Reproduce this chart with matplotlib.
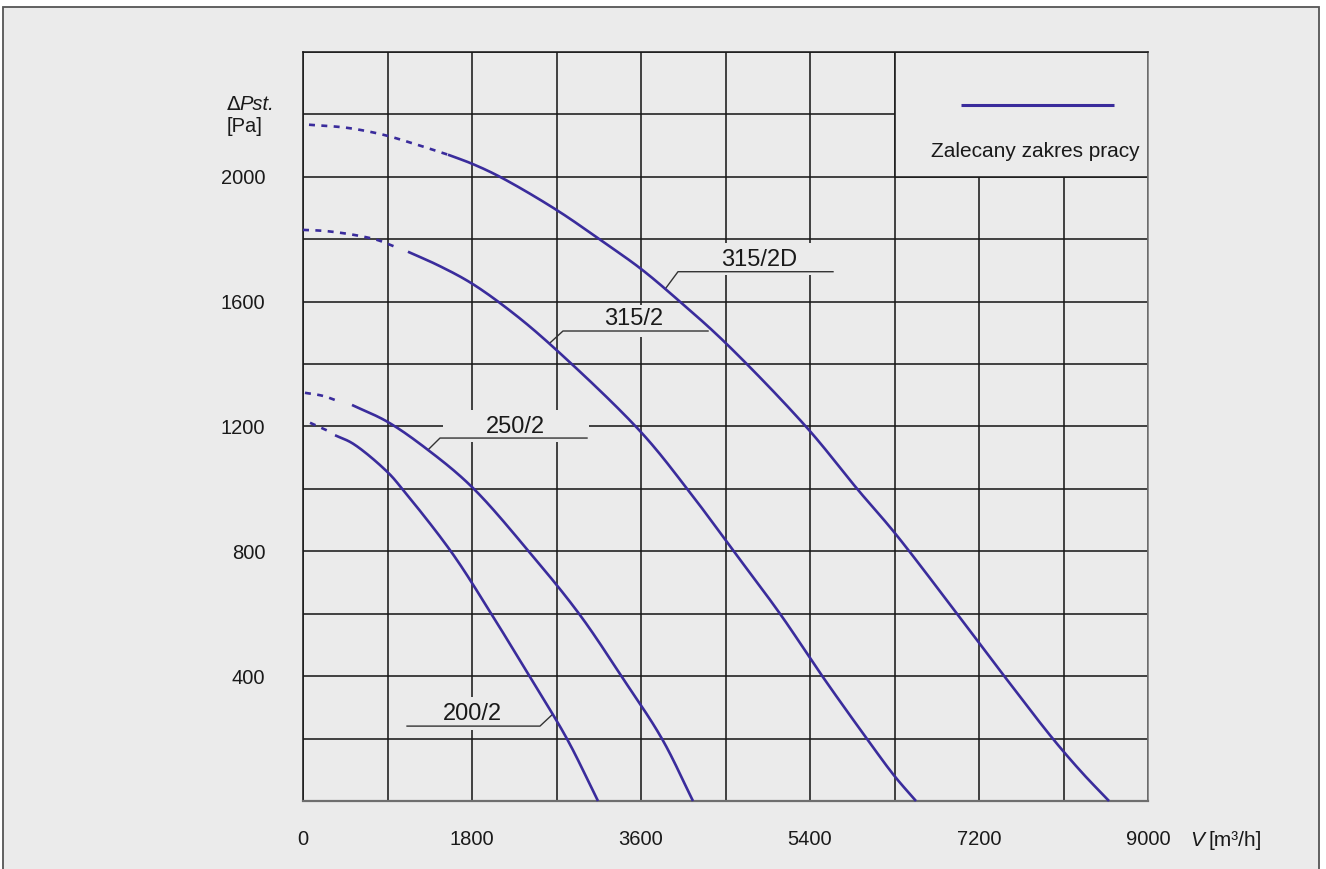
import matplotlib
matplotlib.use('Agg')
import matplotlib.pyplot as plt
from matplotlib.patches import Rectangle
import numpy as np

plt.rcParams['font.family'] = ['Liberation Sans', 'DejaVu Sans']
plt.rcParams['lines.scale_dashes'] = False

# ---------------- data ----------------
x_ticks = [0, 1800, 3600, 5400, 7200, 9000]
x_tick_labels = ['0', '1800', '3600', '5400', '7200', '9000']
y_ticks = [400, 800, 1200, 1600, 2000]
y_tick_labels = ['400', '800', '1200', '1600', '2000']

# 315/2D
v_315_2D_dash = [64, 469, 852, 1214, 1544]
p_315_2D_dash = [2167, 2157, 2135, 2103, 2071]
v_315_2D = [1544, 1800, 2098, 2700, 3195, 3600, 4015, 4500, 5368, 5911, 6300, 6976, 7477, 7988, 8300, 8585]
p_315_2D = [2071, 2042, 2000, 1894, 1792, 1705, 1600, 1468, 1196, 997, 860, 596, 397, 199, 90, 0]

# 315/2
v_315_2_dash = [0, 213, 415, 596, 788, 980]
p_315_2_dash = [1830, 1827, 1820, 1811, 1798, 1776]
v_315_2 = [1118, 1450, 1800, 2240, 2700, 3600, 4100, 4601, 5090, 5538, 6007, 6300, 6529]
p_315_2 = [1760, 1715, 1658, 1563, 1445, 1182, 997, 795, 596, 397, 199, 80, 0]

# 250/2
v_250_2_dash = [21, 213, 394]
p_250_2_dash = [1308, 1298, 1279]
v_250_2 = [522, 900, 1331, 1800, 2418, 2950, 3398, 3824, 4154]
p_250_2 = [1269, 1215, 1125, 1006, 795, 596, 397, 199, 0]

# 200/2
v_200_2_dash = [75, 266]
p_200_2_dash = [1212, 1186]
v_200_2 = [341, 533, 900, 1065, 1587, 2013, 2418, 2812, 3142]
p_200_2 = [1172, 1145, 1054, 997, 795, 596, 397, 199, 0]

curve_names = ['315/2D', '315/2', '250/2', '200/2']
legend_text = 'Zalecany zakres pracy'

# ---------------- figure ----------------
W, H = 1326, 869
fig = plt.figure(figsize=(W / 100, H / 100), dpi=100, facecolor='white')
bg = '#ebebeb'
frame = Rectangle((3 / W, -0.02), (1319 - 3) / W, (H - 7) / H + 0.02,
                  transform=fig.transFigure, facecolor=bg,
                  edgecolor='#555555', lw=1.3, zorder=-10)
fig.patches.append(frame)

ax = fig.add_axes([303 / W, (H - 801) / H, 845 / W, 749 / H])
ax.set_zorder(5)
ax.set_facecolor(bg)
ax.set_xlim(0, 9000)
ax.set_ylim(0, 2400)

ax.set_xticks(x_ticks)
ax.set_xticklabels(x_tick_labels)
ax.set_xticks(list(range(0, 9001, 900)), minor=True)
ax.set_yticks(y_ticks)
ax.set_yticklabels(y_tick_labels)
ax.set_yticks(list(range(0, 2401, 200)), minor=True)
ax.tick_params(which='both', length=0)
ax.tick_params(axis='x', labelsize=14.5, pad=21, colors='#1a1a1a')
ax.tick_params(axis='y', labelsize=14.5, pad=27, colors='#1a1a1a')
ax.set_axisbelow(True)
ax.grid(which='both', color='#1a1a1a', lw=1.15)
for s in ['left', 'top', 'right']:
    ax.spines[s].set_color('#1a1a1a')
    ax.spines[s].set_linewidth(1.15)
ax.spines['right'].set_color('#777777')
ax.spines['bottom'].set_color('#6e6e6e')
ax.spines['bottom'].set_linewidth(1.6)


def smooth(xs, ys, n=24):
    """Centripetal Catmull-Rom rendering through the read points (display scale)."""
    sx, sy = 9000 / 845.0, 2400 / 749.0
    P = np.column_stack([np.asarray(xs, float) / sx, np.asarray(ys, float) / sy])
    if len(P) < 3:
        return xs, ys
    P = np.vstack([2 * P[0] - P[1], P, 2 * P[-1] - P[-2]])
    out = []
    for i in range(1, len(P) - 2):
        p0, p1, p2, p3 = P[i - 1], P[i], P[i + 1], P[i + 2]
        t0 = 0.0
        t1 = t0 + np.linalg.norm(p1 - p0) ** 0.5
        t2 = t1 + np.linalg.norm(p2 - p1) ** 0.5
        t3 = t2 + np.linalg.norm(p3 - p2) ** 0.5
        t = np.linspace(t1, t2, n, endpoint=(i == len(P) - 3))[:, None]
        a1 = (t1 - t) / (t1 - t0) * p0 + (t - t0) / (t1 - t0) * p1
        a2 = (t2 - t) / (t2 - t1) * p1 + (t - t1) / (t2 - t1) * p2
        a3 = (t3 - t) / (t3 - t2) * p2 + (t - t2) / (t3 - t2) * p3
        b1 = (t2 - t) / (t2 - t0) * a1 + (t - t0) / (t2 - t0) * a2
        b2 = (t3 - t) / (t3 - t1) * a2 + (t - t1) / (t3 - t1) * a3
        c = (t2 - t) / (t2 - t1) * b1 + (t - t1) / (t2 - t1) * b2
        out.append(c)
    C = np.vstack(out)
    return C[:, 0] * sx, C[:, 1] * sy


col = '#3a2c9c'
lw = 1.9
dash = (0, (4.3, 4.6))
for vd, pd_, vs, ps in [(v_315_2D_dash, p_315_2D_dash, v_315_2D, p_315_2D),
                        (v_315_2_dash, p_315_2_dash, v_315_2, p_315_2),
                        (v_250_2_dash, p_250_2_dash, v_250_2, p_250_2),
                        (v_200_2_dash, p_200_2_dash, v_200_2, p_200_2)]:
    xd, yd = smooth(vd, pd_)
    ax.plot(xd, yd, color=col, lw=lw, ls=dash, zorder=3, clip_on=False)
    xs_, ys_ = smooth(vs, ps)
    ax.plot(xs_, ys_, color=col, lw=lw, zorder=3, solid_capstyle='butt', clip_on=False)

# legend box (covers grid)
ax.add_patch(Rectangle((6300, 2000), 2700, 400, facecolor=bg, edgecolor='#1a1a1a',
                       lw=1.15, zorder=1.5))
ax.plot([7008, 8638], [2231, 2231], color=col, lw=2.2, zorder=3, solid_capstyle='butt')
ax.text(8915, 2080, legend_text, ha='right', va='center', fontsize=15, color='#1a1a1a', zorder=3)

# curve labels with masks and leader lines
labels = [
    ('315/2D', (4857, 1734), (3994, 5666, 1686, 1788), ([5645, 3994, 3866], [1696, 1696, 1644])),
    ('315/2', (3525, 1545), (2769, 4335, 1487, 1590), ([4314, 2769, 2631], [1506, 1506, 1468])),
    ('250/2', (2258, 1199), (1491, 3046, 1151, 1253), ([3025, 1459, 1331], [1163, 1163, 1125])),
    ('200/2', (1800, 279), (1086, 2546, 228, 333), ([1108, 2524, 2652], [240, 240, 276])),
]
for name, (tx, ty), (mx0, mx1, my0, my1), (lx, ly) in labels:
    ax.add_patch(Rectangle((mx0, my0), mx1 - mx0, my1 - my0, facecolor=bg,
                           edgecolor='none', zorder=1.6))
    ax.plot(lx, ly, color='#333333', lw=1.0, zorder=1.7)
    ax.text(tx, ty, name, ha='center', va='center', fontsize=17, color='#1a1a1a', zorder=2)

# axis titles
fig.text(227 / W, 1 - 105 / H, '\u0394', fontsize=14.5, ha='left', va='center',
         color='#1a1a1a', family=['DejaVu Sans'])
fig.text(239 / W, 1 - 105 / H, 'Pst.', fontsize=14.5, style='italic', ha='left', va='center', color='#1a1a1a')
fig.text(227 / W, 1 - 127 / H, '[Pa]', fontsize=14.5, ha='left', va='center', color='#1a1a1a')
fig.text(1190 / W, 1 - 840 / H, 'V', fontsize=15, style='italic', ha='left', va='center', color='#1a1a1a')
fig.text(1208 / W, 1 - 840 / H, '[m\u00b3/h]', fontsize=15, ha='left', va='center', color='#1a1a1a')

fig.savefig('out.png', dpi=100, facecolor='white')
